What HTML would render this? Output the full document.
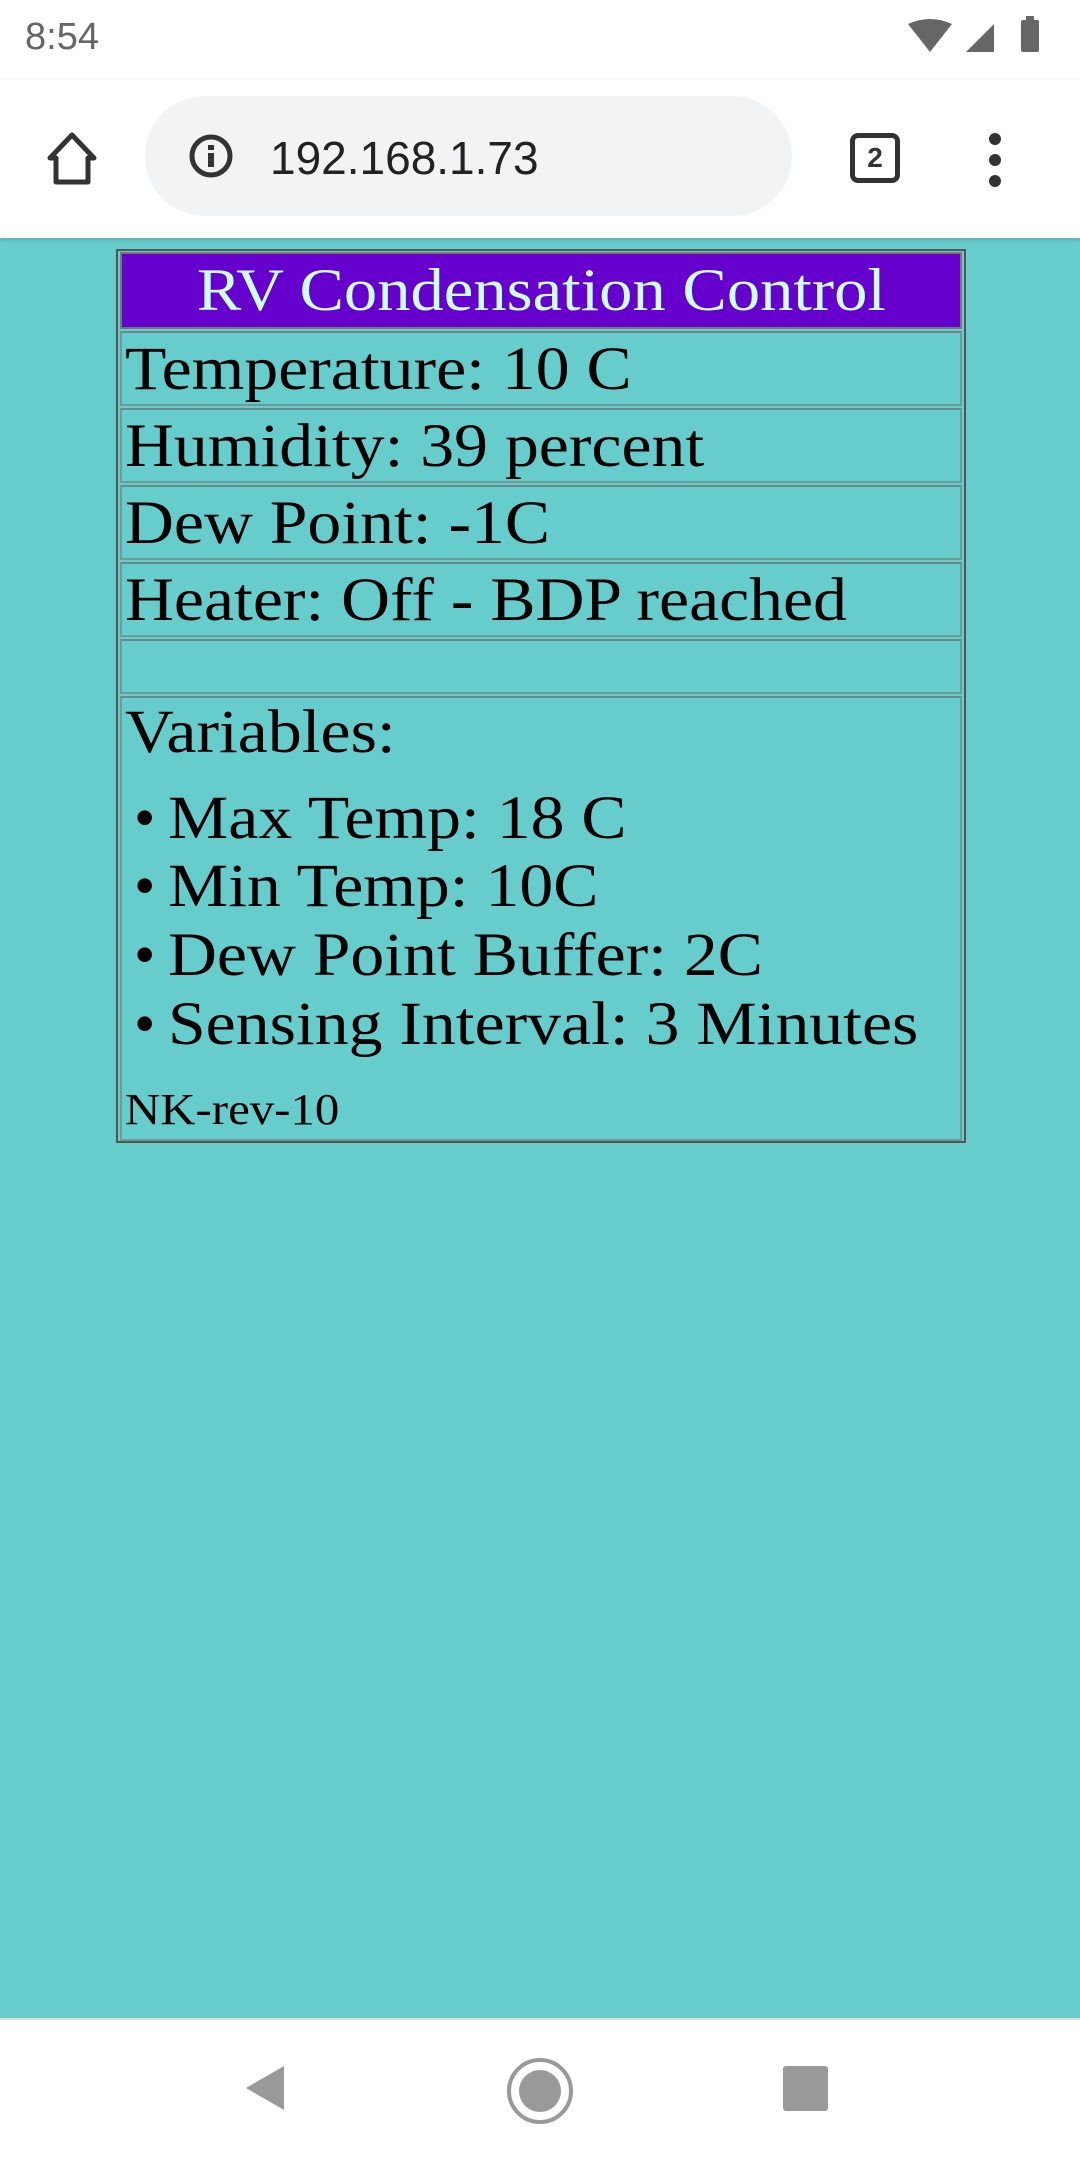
<!DOCTYPE html>
<html><head><meta charset="utf-8"><style>
body{margin:0;width:1080px;height:2160px;position:relative;background:#66cccc;overflow:hidden;font-family:"Liberation Serif",serif}
.abs{position:absolute}
.cell{position:absolute;left:120px;width:842px;border:2px solid #6e9a9a;border-top-color:#6a8a8a;box-sizing:border-box}
.txt{position:absolute;left:125px;font-size:61px;line-height:1;color:#000;white-space:nowrap;transform:scaleX(1.11);transform-origin:0 0}
</style></head><body>
<div class="abs" style="left:0;top:0;width:1080px;height:80px;background:#fff"></div>
<div class="abs" style="left:25px;top:16px;font-family:'Liberation Sans',sans-serif;font-size:38px;color:#666">8:54</div>
<svg class="abs" style="left:900px;top:14px" width="160" height="44">
<path d="M8 10 Q30 0 52 10 L30 38Z" fill="#666"/><path d="M66 38 L94 10 L94 38Z" fill="#666"/><rect x="121" y="6" width="18" height="32" rx="2" fill="#666"/><rect x="126" y="2" width="8" height="5" fill="#666"/></svg>
<div class="abs" style="left:0;top:80px;width:1080px;height:158px;background:#fff;box-shadow:0 2px 4px rgba(0,0,0,.15)"></div>
<svg class="abs" style="left:42px;top:130px" width="60" height="60"><path d="M30 5 L52 28 L46 28 L46 52 L14 52 L14 28 L8 28Z" fill="none" stroke="#333" stroke-width="5" stroke-linejoin="round"/></svg>
<div class="abs" style="left:145px;top:96px;width:647px;height:120px;border-radius:60px;background:#f1f3f4"></div>
<svg class="abs" style="left:188px;top:133px" width="46" height="46"><circle cx="23" cy="23" r="19" fill="none" stroke="#333" stroke-width="5"/><rect x="20" y="20" width="6" height="14" fill="#333"/><rect x="20" y="12" width="6" height="5" fill="#333"/></svg>
<div class="abs" style="left:270px;top:131px;font-family:'Liberation Sans',sans-serif;font-size:46px;color:#222">192.168.1.73</div>
<div class="abs" style="left:850px;top:133px;width:40px;height:40px;border:5px solid #333;border-radius:8px;font-family:'Liberation Sans',sans-serif;font-size:28px;font-weight:bold;text-align:center;line-height:40px;color:#333">2</div>
<svg class="abs" style="left:985px;top:130px" width="20" height="60"><circle cx="10" cy="9" r="6" fill="#333"/><circle cx="10" cy="30" r="6" fill="#333"/><circle cx="10" cy="51" r="6" fill="#333"/></svg>

<div class="abs" style="left:116px;top:249px;width:850px;height:894px;border:2px solid #555;box-sizing:border-box"></div>
<div class="cell" style="top:252px;height:77px;background:#6600cc;border-color:#777"></div>
<div class="abs" style="left:120px;width:842px;top:256px;text-align:center;font-size:60px;color:#ccffff;line-height:68px"><span style="display:inline-block;transform:scaleX(1.11)">RV Condensation Control</span></div>
<div class="cell" style="top:331px;height:75px"></div>
<div class="txt" style="top:339px">Temperature: 10 C</div>
<div class="cell" style="top:408px;height:75px"></div>
<div class="txt" style="top:416px">Humidity: 39 percent</div>
<div class="cell" style="top:485px;height:75px"></div>
<div class="txt" style="top:493px">Dew Point: -1C</div>
<div class="cell" style="top:562px;height:75px"></div>
<div class="txt" style="top:570px">Heater: Off - BDP reached</div>
<div class="cell" style="top:639px;height:55px"></div>
<div class="cell" style="top:696px;height:445px"></div>
<div class="txt" style="top:702px">Variables:</div>
<div class="txt" style="top:788px;left:134px;transform:none">•</div>
<div class="txt" style="top:788px;left:168px">Max Temp: 18 C</div>
<div class="txt" style="top:856px;left:134px;transform:none">•</div>
<div class="txt" style="top:856px;left:168px">Min Temp: 10C</div>
<div class="txt" style="top:925px;left:134px;transform:none">•</div>
<div class="txt" style="top:925px;left:168px">Dew Point Buffer: 2C</div>
<div class="txt" style="top:994px;left:134px;transform:none">•</div>
<div class="txt" style="top:994px;left:168px">Sensing Interval: 3 Minutes</div>
<div class="txt" style="top:1088px;font-size:44px">NK-rev-10</div>

<div class="abs" style="left:0;top:2018px;width:1080px;height:142px;background:#fff;border-top:2px solid #e0e0e0"></div>
<svg class="abs" style="left:240px;top:2060px" width="50" height="56"><path d="M6 28 L44 6 L44 50Z" fill="#999"/></svg>
<svg class="abs" style="left:505px;top:2056px" width="70" height="70"><circle cx="35" cy="35" r="31" fill="none" stroke="#999" stroke-width="4"/><circle cx="35" cy="35" r="21" fill="#999"/></svg>
<div class="abs" style="left:783px;top:2066px;width:45px;height:45px;background:#999;border-radius:3px"></div>
</body></html>
